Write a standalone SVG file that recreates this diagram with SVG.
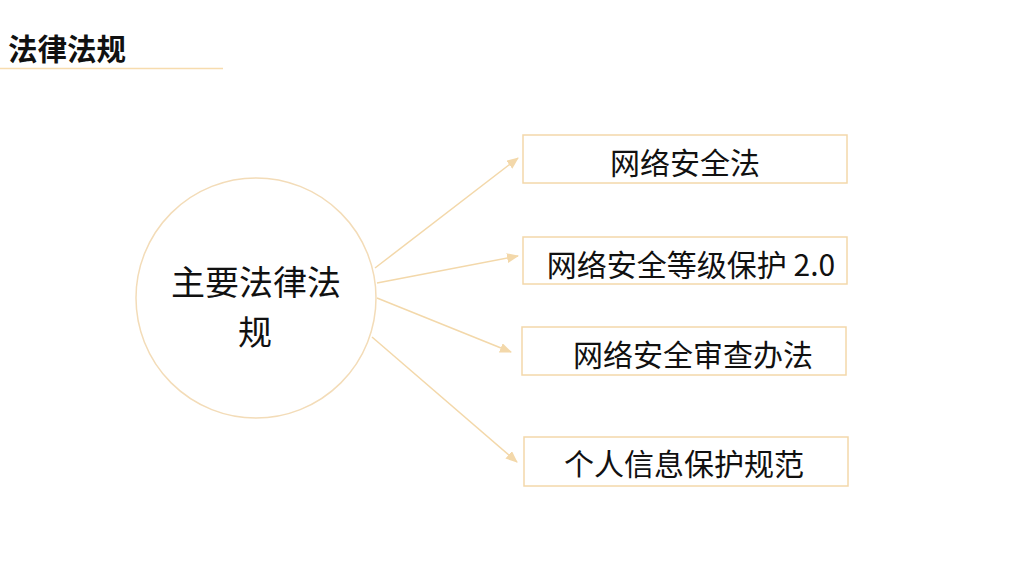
<svg xmlns="http://www.w3.org/2000/svg" width="1024" height="576" viewBox="0 0 1024 576">
<style>
text{font-family:"Noto Sans CJK SC","Noto Sans",sans-serif;fill:#111}
.box{fill:#fff;stroke:#f3d8aa;stroke-width:1.5}
.lbl{font-size:30px;text-anchor:middle;dominant-baseline:central}
.conn{stroke:#f3d8aa;stroke-width:1.5;fill:none;marker-end:url(#ah)}
</style>
<defs>
<marker id="ah" viewBox="0 0 12 10" refX="11" refY="5" markerWidth="12" markerHeight="10" markerUnits="userSpaceOnUse" orient="auto">
<path d="M0,0 L12,5 L0,10 Z" fill="#f3d8aa"/>
</marker>
</defs>
<rect width="1024" height="576" fill="#fff"/>
<g id="title">
<text x="8" y="60" style="font-size:29.5px;font-weight:bold">法律法规</text>
<line x1="0" y1="68.5" x2="223" y2="68.5" stroke="#f7dcae" stroke-width="1.5"/>
</g>
<g id="connectors">
<line class="conn" x1="375" y1="268" x2="518" y2="158"/>
<line class="conn" x1="377" y1="283" x2="518" y2="256"/>
<line class="conn" x1="377" y1="298" x2="511" y2="352"/>
<line class="conn" x1="372" y1="337" x2="517" y2="462"/>
</g>
<g id="center">
<circle cx="256" cy="298" r="120" fill="#fff" stroke="#f3dcb8" stroke-width="1.5"/>
<text x="256" y="280" style="font-size:34px;text-anchor:middle;dominant-baseline:central">主要法律法</text>
<text x="255" y="330" style="font-size:34px;text-anchor:middle;dominant-baseline:central">规</text>
</g>
<g id="n1">
<rect class="box" x="523" y="135" width="324" height="48"/>
<text class="lbl" x="685" y="161">网络安全法</text>
</g>
<g id="n2">
<rect class="box" x="523" y="237" width="324" height="47"/>
<text class="lbl" x="691" y="263">网络安全等级保护 2.0</text>
</g>
<g id="n3">
<rect class="box" x="522" y="327" width="324" height="48"/>
<text class="lbl" x="693" y="353">网络安全审查办法</text>
</g>
<g id="n4">
<rect class="box" x="524" y="437" width="324" height="49"/>
<text class="lbl" x="684" y="462">个人信息保护规范</text>
</g>
</svg>
